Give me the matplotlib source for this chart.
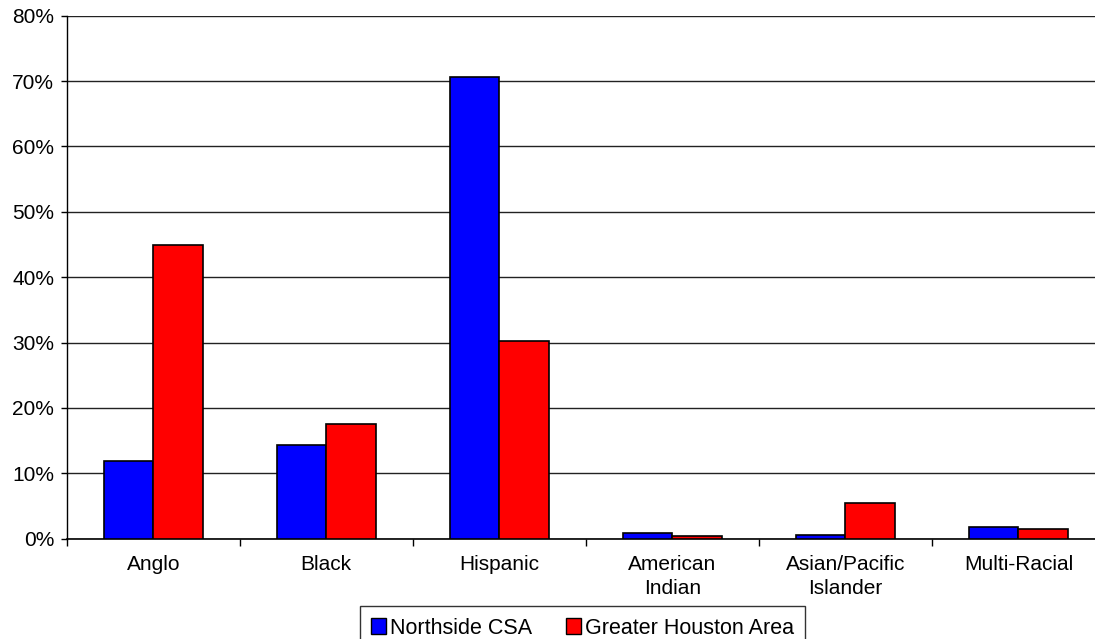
import matplotlib.pyplot as plt
import numpy as np
from matplotlib.patches import Rectangle
from matplotlib.ticker import FuncFormatter

plt.rcParams['font.family'] = ['Liberation Sans', 'DejaVu Sans']

categories = ['Anglo', 'Black', 'Hispanic', 'American\nIndian',
              'Asian/Pacific\nIslander', 'Multi-Racial']
northside = [11.9, 14.3, 70.6, 0.8, 0.6, 1.8]
houston = [45.0, 17.6, 30.2, 0.45, 5.5, 1.45]
series_names = ['Northside CSA', 'Greater Houston Area']
colors = ['#0000ff', '#ff0000']

fig = plt.figure(figsize=(10.95, 6.39), dpi=100)
# right edge runs a bit past the picture, like the original crop
ax = fig.add_axes([66.7 / 1095, 100.3 / 639, (1105 - 66.7) / 1095, 523 / 639])

x = np.arange(len(categories))
w = 0.285
ax.bar(x - w / 2, northside, w, color=colors[0], edgecolor='black', linewidth=1.2, zorder=3)
ax.bar(x + w / 2, houston, w, color=colors[1], edgecolor='black', linewidth=1.2, zorder=3)

ax.set_xlim(-0.5, len(categories) - 0.5)
ax.set_ylim(0, 80)
ax.set_yticks(np.arange(0, 81, 10))
ax.yaxis.set_major_formatter(FuncFormatter(lambda v, p: '%d%%' % v))
ax.yaxis.grid(True, color='#222222', linewidth=1)
ax.set_axisbelow(True)

ax.set_xticks(x)
ax.set_xticklabels(categories, fontsize=15, linespacing=1.3)
ax.set_xticks(np.arange(-0.5, len(categories), 1), minor=True)
ax.tick_params(axis='x', which='major', length=0, pad=12)
ax.tick_params(axis='x', which='minor', length=5, width=1)
ax.tick_params(axis='y', length=4, width=1, pad=5, labelsize=15)

for s in ['top', 'right']:
    ax.spines[s].set_visible(False)
ax.spines['left'].set_linewidth(1)
ax.spines['bottom'].set_linewidth(1.2)

handles = [Rectangle((0, 0), 1, 1, facecolor=c, edgecolor='black', linewidth=1) for c in colors]
leg = fig.legend(handles, series_names, loc='upper center',
                 bbox_to_anchor=(582.5 / 1095, 1 - 605.7 / 639), ncol=2,
                 fontsize=15.5, frameon=True, fancybox=False, edgecolor='black',
                 handlelength=0.7, handleheight=0.7, handletextpad=0.15,
                 columnspacing=1.6, borderpad=0.55, borderaxespad=0)
leg.get_frame().set_linewidth(1)

fig.savefig('out.png', dpi=100)
